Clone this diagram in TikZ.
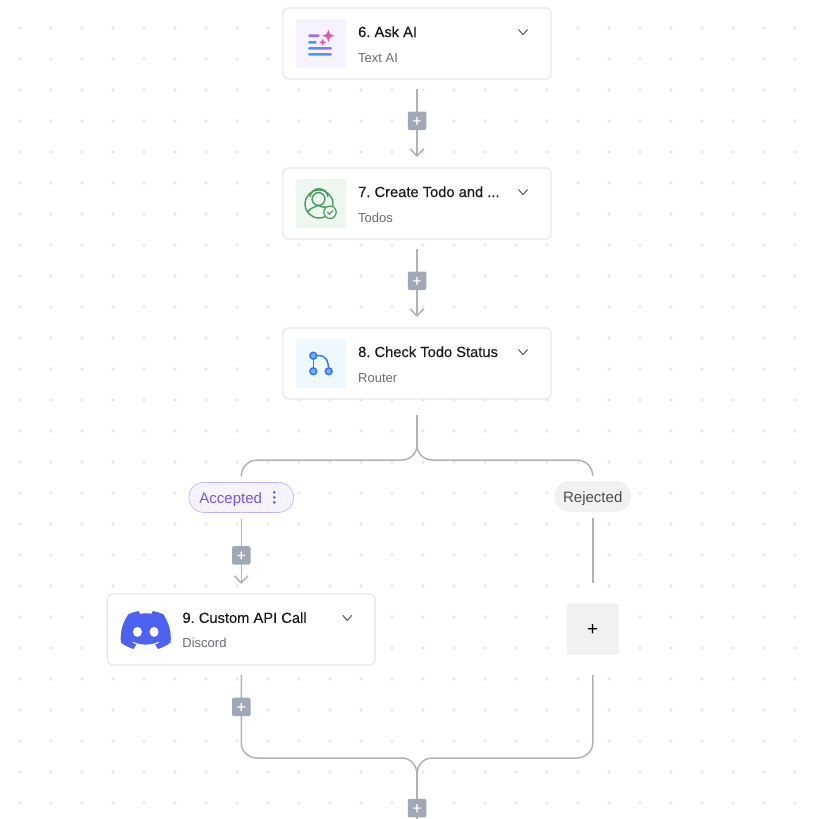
\documentclass[tikz,border=0pt]{standalone}
\usepackage{fontspec}
\setmainfont{Liberation Sans}
\newfontfamily\medfont[FakeBold=0.12]{Liberation Sans}
\frenchspacing
\usetikzlibrary{arrows.meta,positioning}
\definecolor{cInk}{HTML}{18181B}
\definecolor{cSub}{HTML}{6B6B70}
\definecolor{cBorder}{HTML}{E8E8EB}
\definecolor{cFlow}{HTML}{B1B1B8}
\definecolor{cBtn}{HTML}{A0A7B5}
\definecolor{cDot}{HTML}{E8E8E8}
\definecolor{cGrey}{HTML}{F1F1F1}
\definecolor{cViolet}{HTML}{6E5BD8}
\definecolor{cLine}{HTML}{A594F0}
\definecolor{cTodo}{HTML}{4A9A5E}
\definecolor{cRoute}{HTML}{2F7BF0}
\definecolor{cDiscord}{HTML}{4E62F2}
\definecolor{cPink}{HTML}{EF4FA6}
\definecolor{cPurple}{HTML}{A968EE}
\definecolor{cBlue}{HTML}{3C9DF6}
\definecolor{tAI}{HTML}{F6F3FE}
\definecolor{tTodo}{HTML}{EDF7EF}
\definecolor{tRoute}{HTML}{EFF8FE}
\tikzset{
  card/.style={draw=cBorder,fill=white,line width=1.2pt,rounded corners=5pt,minimum width=268pt,minimum height=71pt,inner sep=0pt,outer sep=0pt},
  tile/.style={rounded corners=2pt,minimum width=50pt,minimum height=49pt,inner sep=0pt,outer sep=0pt},
  cardtitle/.style={anchor=base west,inner sep=0pt,text=cInk,font=\medfont\fontsize{14.7}{17}\selectfont},
  cardsub/.style={anchor=base west,inner sep=0pt,text=cSub,font=\fontsize{13}{15}\selectfont},
  chev/.style={draw=cSub!85!black,line width=1pt},
  flow/.style={draw=cFlow,line width=1.5pt},
  flowar/.style={flow,-{Straight Barb[length=7pt,width=13.5pt]}},
  addbtn/.style={fill=cBtn,text=white,rounded corners=2pt,minimum size=18.5pt,inner sep=0pt,outer sep=0pt,text height=10.8pt,text depth=0pt,font=\medfont\fontsize{16}{16}\selectfont},
  pillA/.style={draw=cLine,fill=tAI,text=cViolet,rounded corners=15pt,minimum width=104.7pt,minimum height=30pt,inner sep=0pt,outer sep=0pt,text height=14.2pt,text depth=3pt,font=\fontsize{15}{17}\selectfont},
  pillR/.style={fill=cGrey,text=black!70,rounded corners=15pt,minimum width=76.5pt,minimum height=30.7pt,inner sep=0pt,outer sep=0pt,text height=15.2pt,text depth=3pt,font=\fontsize{15}{17}\selectfont},
  addbox/.style={fill=cGrey,text=black,rounded corners=2pt,minimum size=51.5pt,inner sep=0pt,outer sep=0pt,text height=13pt,text depth=0pt,font=\fontsize{19}{19}\selectfont},
  sparkle/.pic={\fill[pic actions] (0,1) .. controls (.22,.22) .. (1,0) .. controls (.22,-.22) .. (0,-1) .. controls (-.22,-.22) .. (-1,0) .. controls (-.22,.22) .. (0,1) -- cycle;},
}
% card with icon tile, title, subtitle and chevron
\newcommand{\flowcard}[5]{
  \node[card,#2] (#1) {};
  \node[tile,fill=#5,right=13pt of #1.west] (#1Icon) {};
  \node[cardtitle] (#1Title) at ([shift={(75pt,6.5pt)}]#1.west) {#3};
  \node[cardsub] (#1Sub) at ([shift={(75pt,-18.5pt)}]#1.west) {#4};
  \draw[chev] ([shift={(235.5pt,14.1pt)}]#1.west) -- ++(4.5,-5.2) -- ++(4.5,5.2);
}
\begin{document}
\begin{tikzpicture}[x=1pt,y=1pt]
\useasboundingbox (0,0) rectangle (819,-819);
% dotted canvas
\foreach \i in {0,...,25} \foreach \j in {0,...,25}
  \fill[cDot] (20+31*\i,-28-31*\j) circle (1.8);
% cards
\flowcard{ask}{at={(417,-43.5)}}{6. Ask AI}{Text AI}{tAI}
\flowcard{todo}{below=89pt of ask}{7. Create Todo and ...}{Todos}{tTodo}
\flowcard{check}{below=89pt of todo}{8. Check Todo Status}{Router}{tRoute}
\node[pillA] (accepted) at (241.25,-497.4) {Accepted\hspace{21pt}\mbox{}};
\node[pillR] (rejected) at (592.75,-496.4) {Rejected};
\flowcard{discord}{below=81.5pt of accepted}{9. Custom API Call}{Discord}{white}
\node[addbox,below=91.5pt of rejected] (addBranch) {+};
\foreach \k in {-5,0,5} \fill[cViolet] ([shift={(33pt,\k pt)}]accepted.center) circle (1.5);
% joints
\coordinate (splitTop) at (417,-445);
\coordinate (splitL) at (402,-460);
\coordinate (splitR) at (432,-460);
\coordinate (bendL) at (257.25,-460);
\coordinate (bendR) at (576.75,-460);
\coordinate (mergeL) at (402,-758);
\coordinate (mergeR) at (432,-758);
\coordinate (outL) at (257.25,-758);
\coordinate (outR) at (576.75,-758);
\coordinate (merge) at (417,-774);
\coordinate (exit) at (417,-819);
% connectors
\draw[flowar,shorten <=10pt,shorten >=11pt] (ask) -- (todo);
\draw[flowar,shorten <=10pt,shorten >=11pt] (todo) -- (check);
\draw[flow,shorten <=16pt] (check) -- (splitTop);
\draw[flow] (splitTop) to[out=-90,in=0] (splitL) -- (bendL) to[out=180,in=90] ([yshift=6pt]accepted.north);
\draw[flow] (splitTop) to[out=-90,in=180] (splitR) -- (bendR) to[out=0,in=90] ([yshift=5pt]rejected.north);
\draw[flowar,shorten <=6.5pt,shorten >=10pt] (accepted) -- (discord);
\draw[flow,shorten <=6.5pt,shorten >=20pt] (rejected) -- (addBranch);
\draw[flow] ([yshift=-10pt]discord.south) -- ([yshift=-78pt]discord.south) to[out=-90,in=180] (outL) -- (mergeL) to[out=0,in=90] (merge);
\draw[flow] ([yshift=-20pt]addBranch.south) -- ([yshift=-88pt]addBranch.south) to[out=-90,in=0] (outR) -- (mergeR) to[out=180,in=90] (merge);
\draw[flow] (merge) -- (exit);
% add buttons
\node[addbtn,below=32.5pt of ask] (addA) {+};
\node[addbtn,below=32.5pt of todo] (addB) {+};
\node[addbtn,below=33.75pt of accepted] (addC) {+};
\node[addbtn,below=32.75pt of discord] (addD) {+};
\node[addbtn,below=24.8pt of merge] (addE) {+};
% text ai icon
\foreach \y/\xe/\cl/\cr in {35.7/319.5/cPurple!70!cBlue/cPurple,42.3/316.7/cBlue/cBlue!70!cPurple,48.3/331.7/cBlue/cPurple,54.3/331.7/cBlue/cBlue!60!cPurple}
  \shade[left color=\cl,right color=\cr,rounded corners=1pt] (308.3,-\y+1.3) rectangle (\xe,-\y-1.3);
\pic[fill=cPink,scale=6.2] at (328.3,-35.7) {sparkle};
\pic[fill=cPink,scale=3.4] at (322.7,-42.3) {sparkle};
% todos icon
\begin{scope}[cTodo,line width=1.4pt]
\draw (319,-204) circle (14);
\draw (318.5,-199) circle (6.4);
\draw (310,-197) .. controls (311,-186) and (327,-186) .. (328,-197);
\draw (307.5,-212) .. controls (311,-208) and (314,-207) .. (318.5,-205.5) .. controls (322,-207) and (325,-208) .. (328,-207);
\fill[tTodo] (330,-212.3) circle (6.8);
\draw[line width=1.2pt] (330,-212.3) circle (6.2);
\draw[line width=1.1pt] (327.3,-212.2) -- (329.4,-214.3) -- (332.9,-210.6);
\end{scope}
% router icon
\begin{scope}[draw=cRoute,line width=1.5pt]
\draw (313.3,-355.7) -- (313.3,-371.3);
\draw (313.3,-355.7) -- (320,-355.7) .. controls (325,-355.7) and (328.7,-360) .. (328.7,-371.3);
\foreach \cx/\cy in {313.3/355.7,313.3/371.3,328.7/371.3}
  \filldraw[fill=cRoute!65!white] (\cx,-\cy) circle (3.4);
\end{scope}
% discord icon
\begin{scope}[shift={(120.7,-611)},x=.394pt,y=-.394pt]
\fill[cDiscord] (107.7,8.07) .. controls (99.5,4.3) and (90.7,1.6) .. (81.47,0) .. controls (80.2,2.2) and (79,4.5) .. (78.11,6.83) .. controls (68.3,5.4) and (58.8,5.4) .. (49,6.83) .. controls (48,4.5) and (46.9,2.2) .. (45.64,0) .. controls (36.5,1.6) and (27.6,4.3) .. (19.39,8.09) .. controls (2.79,32.65) and (-1.71,56.6) .. (.54,80.21) .. controls (10,87.2) and (21,92.9) .. (32.71,96.36) .. controls (35.3,92.9) and (37.6,89.2) .. (39.6,85.25) .. controls (35.8,83.8) and (32.2,82.1) .. (28.75,80.07) .. controls (29.66,79.41) and (30.55,78.73) .. (31.41,78.07) .. controls (51.4,87.5) and (75.7,87.5) .. (95.73,78.07) .. controls (96.6,78.78) and (97.49,79.46) .. (98.39,80.07) .. controls (95,82.1) and (91.3,83.8) .. (87.52,85.26) .. controls (89.5,89.2) and (91.8,92.9) .. (94.41,96.36) .. controls (106.1,92.9) and (117.1,87.2) .. (126.6,80.22) .. controls (129.24,52.84) and (122.09,29.11) .. (107.7,8.07) -- cycle;
\fill[white] (42.45,53) ellipse (11.4 and 12.74);
\fill[white] (84.69,53) ellipse (11.4 and 12.74);
\end{scope}
\end{tikzpicture}
\end{document}
